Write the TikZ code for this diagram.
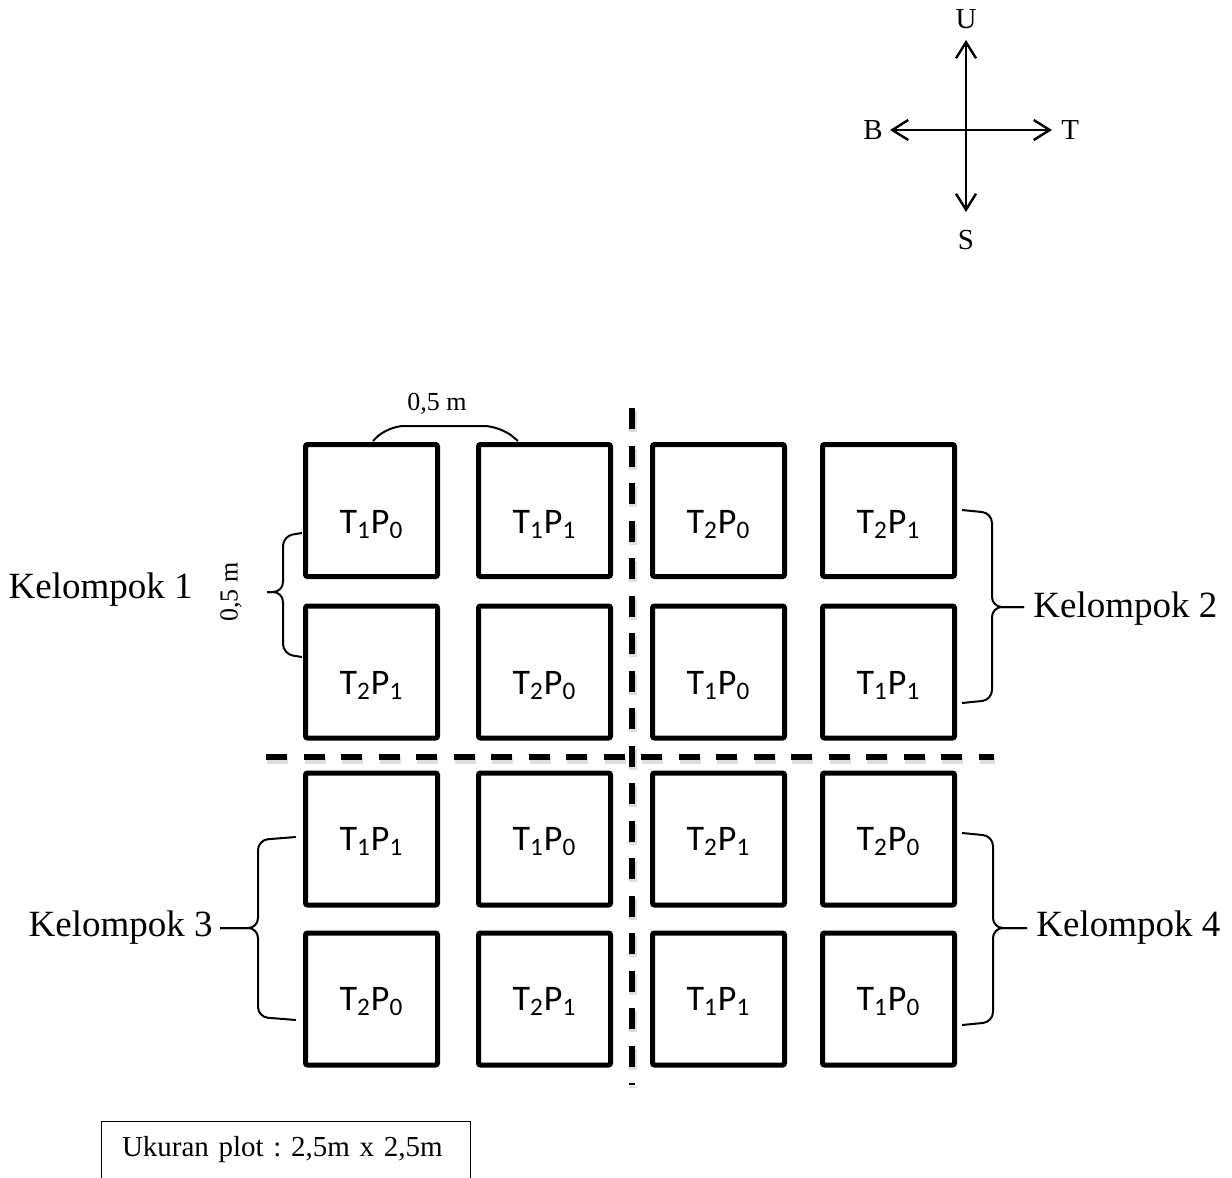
\documentclass[tikz,border=0pt]{standalone}
\usepackage{fontspec}
\setmainfont{Liberation Serif}
\newfontfamily\calfont{Carlito}
\usetikzlibrary{positioning,arrows.meta}

% curly bracket: x end, x spine, x tip, y top, y mid, y bottom
\newcommand\grpbrace[6]{%
  \draw[grpline] (#1,#4) -- (#2,{#4+3}) -- (#2,#5) -- (#3,#5);
  \draw[grpline] (#1,#6) -- (#2,{#6-3}) -- (#2,#5) -- (#3,#5);
}

\begin{document}
\begin{tikzpicture}[x=0.5pt,y=-0.5pt,
    plot/.style={draw, line width=2.5pt, rounded corners=1pt, minimum width=66pt,
      minimum height=66pt, inner sep=0pt, font=\calfont\fontsize{18}{20}\selectfont,
      text height=11.6pt, text depth=0pt},
    plotlow/.style={plot, text height=22.6pt},
    divider/.style={line width=3pt, dash pattern=on 10.5pt off 8.25pt},
    dshadow/.style={divider, black!13, line width=4pt, xshift=0.5pt, yshift=-1.5pt},
    grpline/.style={line width=1pt, rounded corners=5pt},
    grplabel/.style={inner sep=0pt, font=\fontsize{18.5}{22}\selectfont},
    dimlabel/.style={inner sep=0pt, font=\fontsize{13}{15}\selectfont},
    wind/.style={line width=1.2pt, -{Straight Barb[length=8pt,width=10pt]}},
    windlabel/.style={inner sep=0pt, font=\fontsize{14.5}{17}\selectfont},
    notebox/.style={text width=164pt, inner xsep=10pt, inner ysep=0pt, minimum height=28pt,
      align=left, font=\fontsize{14.5}{17}\selectfont\frenchspacing}]
    \useasboundingbox (0,0) rectangle (1232,1178);

    % Compass
    \coordinate (ctr) at (966,130);
    \coordinate (tipU) at (966,40);
    \coordinate (tipS) at (966,212);
    \coordinate (tipB) at (890,130);
    \coordinate (tipT) at (1052,130);
    \draw[wind] (ctr) -- (tipU);
    \draw[wind] (ctr) -- (tipS);
    \draw[wind] (ctr) -- (tipB);
    \draw[wind] (ctr) -- (tipT);
    \node[windlabel, above=5.5pt of tipU] (lblU) {U};
    \node[windlabel, below=9pt of tipS] (lblS) {S};
    \node[windlabel, left=3.5pt of tipB] (lblB) {B};
    \node[windlabel, right=4.5pt of tipT] (lblT) {T};

    % Dividers between groups
    \draw[dshadow] (266,757) -- (994,757);
    \draw[dshadow] (632,408) -- (632,1085);
    \draw[divider] (266,757) -- (994,757);
    \draw[divider] (632,408) -- (632,1085);

    % Plots, row 1 and 2
    \node[plotlow] (p11) at (371.5,510.5) {T\textsubscript{1}P\textsubscript{0}};
    \node[plotlow] (p12) at (544.5,510.5) {T\textsubscript{1}P\textsubscript{1}};
    \node[plotlow] (p13) at (718.5,510.5) {T\textsubscript{2}P\textsubscript{0}};
    \node[plotlow] (p14) at (888.5,510.5) {T\textsubscript{2}P\textsubscript{1}};
    \node[plotlow] (p21) at (371.5,672) {T\textsubscript{2}P\textsubscript{1}};
    \node[plotlow] (p22) at (544.5,672) {T\textsubscript{2}P\textsubscript{0}};
    \node[plotlow] (p23) at (718.5,672) {T\textsubscript{1}P\textsubscript{0}};
    \node[plotlow] (p24) at (888.5,672) {T\textsubscript{1}P\textsubscript{1}};

    % Plots, row 3 and 4
    \node[plot] (p31) at (371.5,839) {T\textsubscript{1}P\textsubscript{1}};
    \node[plot] (p32) at (544.5,839) {T\textsubscript{1}P\textsubscript{0}};
    \node[plot] (p33) at (718.5,839) {T\textsubscript{2}P\textsubscript{1}};
    \node[plot] (p34) at (888.5,839) {T\textsubscript{2}P\textsubscript{0}};
    \node[plot] (p41) at (371.5,999) {T\textsubscript{2}P\textsubscript{0}};
    \node[plot] (p42) at (544.5,999) {T\textsubscript{2}P\textsubscript{1}};
    \node[plot] (p43) at (718.5,999) {T\textsubscript{1}P\textsubscript{1}};
    \node[plot] (p44) at (888.5,999) {T\textsubscript{1}P\textsubscript{0}};

    % Plot size marks
    \draw[grpline, rounded corners=8pt] (373,441) -- (388,426) -- (500,426) -- (518,441);
    \node[dimlabel] (dimtop) at (437,404) {0,5 m};
    \grpbrace{302}{283}{267}{533}{592}{657}
    \node[dimlabel, rotate=90] (dimside) at (231,592) {0,5 m};

    % Groups
    \node[grplabel, anchor=east] (k1) at (193,590) {Kelompok 1};
    \grpbrace{962}{992}{1024}{510}{607}{703}
    \node[grplabel, anchor=west] (k2) at (1033,609) {Kelompok 2};
    \grpbrace{296}{258}{220}{837}{928}{1020}
    \node[grplabel, anchor=east] (k3) at (213,928) {Kelompok 3};
    \grpbrace{962}{993}{1027}{833}{928}{1025}
    \node[grplabel, anchor=west] (k4) at (1036,928) {Kelompok 4};

    % Note
    \node[notebox] (size) at (286,1150) {Ukuran plot : 2,5m x 2,5m};
    \draw[line width=0.6pt] (size.south west) -- (size.north west) -- (size.north east) -- (size.south east);
\end{tikzpicture}
\end{document}
